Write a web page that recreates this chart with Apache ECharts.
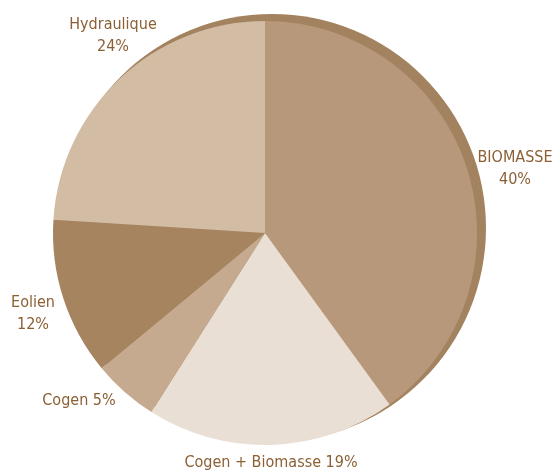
<!DOCTYPE html>
<html>
<head>
<meta charset="utf-8">
<script src="https://cdn.jsdelivr.net/npm/echarts@6/dist/echarts.min.js"></script>
<style>
  html, body { margin: 0; padding: 0; background: #ffffff; }
  #chart { width: 552px; height: 475px; }
</style>
</head>
<body>
<div id="chart"></div>
<script>
// Répartition de la production par filière (%)
const categories = ['BIOMASSE', 'Cogen + Biomasse', 'Cogen', 'Eolien', 'Hydraulique'];
const shares = [40, 19, 5, 12, 24];
const sliceColors = ['#b8987a', '#e9dfd4', '#c5aa8f', '#a6845f', '#d3bca4'];

// Label placement (center of each text block) and whether it breaks onto two lines
const labelSpots = [
  { x: 515, y: 169, twoLines: true },
  { x: 271, y: 463, twoLines: false },
  { x: 79,  y: 401, twoLines: false },
  { x: 33,  y: 314, twoLines: true },
  { x: 113, y: 36,  twoLines: true }
];

const textColor = '#8c6035';
const fontFamily = '"DejaVu Sans Condensed", "Liberation Sans Narrow", sans-serif';

const chart = echarts.init(document.getElementById('chart'), null, { renderer: 'canvas' });

chart.setOption({
  backgroundColor: '#ffffff',
  animation: false,
  series: [
    {
      // darker rim sitting behind the pie
      type: 'pie',
      silent: true,
      z: 1,
      center: [272, 228],
      radius: [0, 214],
      label: { show: false },
      labelLine: { show: false },
      itemStyle: { color: '#a3825f' },
      data: [{ name: 'rim', value: 1 }]
    },
    {
      type: 'pie',
      z: 2,
      center: [265, 233],
      radius: [0, 212],
      startAngle: 90,
      clockwise: true,
      avoidLabelOverlap: false,
      itemStyle: { borderWidth: 0 },
      labelLine: { show: false },
      label: {
        show: true,
        position: 'outside',
        color: textColor,
        fontFamily: fontFamily,
        fontSize: 16,
        lineHeight: 22,
        align: 'center',
        formatter: function (p) {
          const sep = labelSpots[p.dataIndex].twoLines ? '\n' : ' ';
          return p.name + sep + p.value + '%';
        }
      },
      labelLayout: function (params) {
        const s = labelSpots[params.dataIndex];
        return { x: s.x, y: s.y, align: 'center', verticalAlign: 'middle' };
      },
      data: categories.map(function (name, i) {
        return { name: name, value: shares[i], itemStyle: { color: sliceColors[i] } };
      })
    }
  ]
});
</script>
</body>
</html>
